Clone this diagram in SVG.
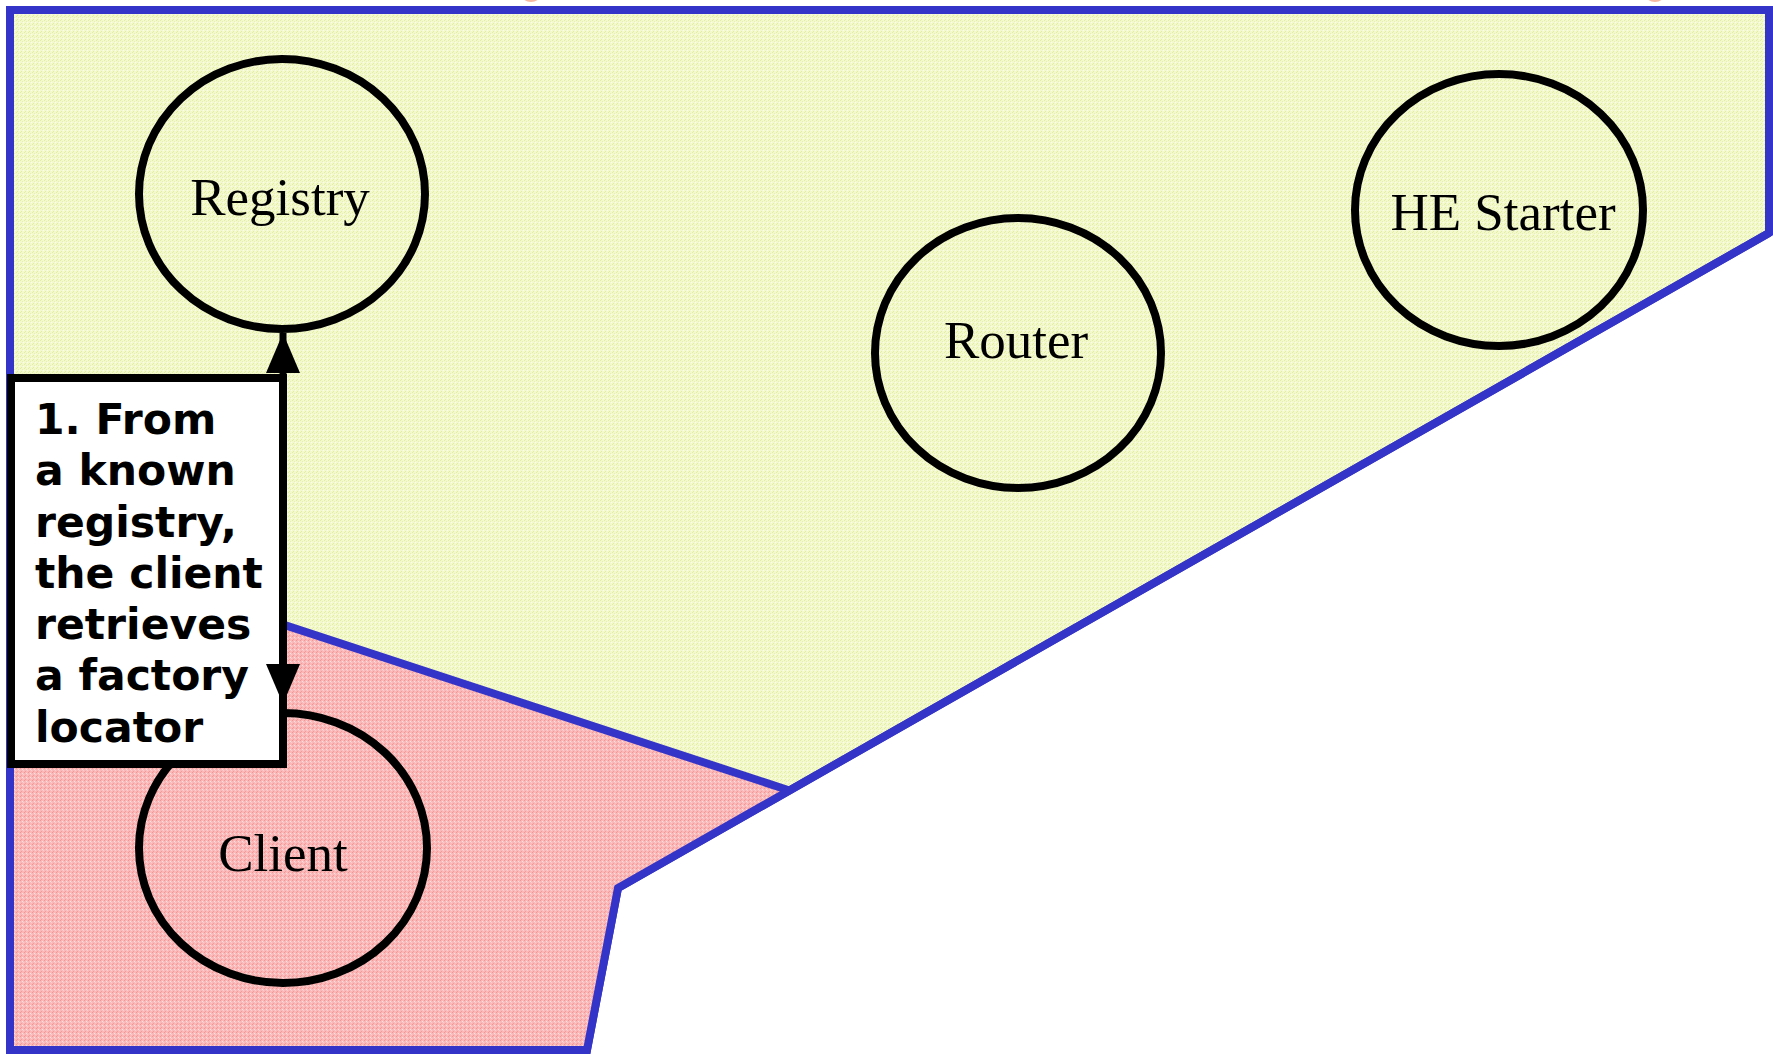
<svg xmlns="http://www.w3.org/2000/svg" width="1773" height="1055" viewBox="0 0 1773 1055">
<style>
.zone{stroke:#3434c8;stroke-width:8;stroke-linejoin:miter}
.node{fill:none;stroke:#000;stroke-width:8}
.lbl{font-family:"Liberation Serif","Times New Roman",serif;font-size:53px;fill:#000;text-anchor:middle}
.note{font-family:"DejaVu Sans",Verdana,sans-serif;font-weight:bold;font-size:42.5px;fill:#000}
</style>
<defs>
<pattern id="py" width="4" height="4" patternUnits="userSpaceOnUse">
<rect width="4" height="4" fill="#f3f8cf"/>
<rect x="0" y="0" width="1" height="1" fill="#e4ee9a"/>
<rect x="2" y="1" width="1" height="1" fill="#e8f1a8"/>
<rect x="1" y="3" width="1" height="1" fill="#e4ee9a"/>
<rect x="3" y="2" width="1" height="1" fill="#fbfde8"/>
</pattern>
<pattern id="pp" width="4" height="4" patternUnits="userSpaceOnUse">
<rect width="4" height="4" fill="#fab8b8"/>
<rect x="0" y="0" width="1" height="1" fill="#f59494"/>
<rect x="2" y="1" width="1" height="1" fill="#fde0e0"/>
<rect x="1" y="3" width="1" height="1" fill="#f69a9a"/>
<rect x="3" y="2" width="1" height="1" fill="#fcd0d0"/>
</pattern>
<marker id="ah" viewBox="0 0 40 34" refX="40" refY="17" markerWidth="40" markerHeight="34" markerUnits="userSpaceOnUse" orient="auto-start-reverse">
<path d="M0,0 L40,17 L0,34 Z" fill="#000"/>
</marker>
</defs>
<g id="top-marks">
<ellipse cx="531" cy="-6" rx="10" ry="8" fill="#f6b8a0"/>
<ellipse cx="1655" cy="-6" rx="10" ry="8" fill="#f6b8a0"/>
</g>
<g id="zone-yellow">
<polygon class="zone" fill="url(#py)" points="10,10 1769,10 1769,233 618,888 587,1050 10,1050"/>
</g>
<g id="zone-pink">
<polygon fill="url(#pp)" points="10,535 793,792 618,888 587,1050 10,1050"/>
<polyline class="zone" fill="none" points="10,535 791,791"/>
<polyline class="zone" fill="none" points="1769,233 618,888 587,1050 10,1050 10,535"/>
</g>
<g id="registry">
<ellipse class="node" cx="282" cy="194" rx="143" ry="135"/>
<text class="lbl" x="280" y="215">Registry</text>
</g>
<g id="router">
<ellipse class="node" cx="1018" cy="353" rx="143" ry="135"/>
<text class="lbl" x="1016" y="358">Router</text>
</g>
<g id="he-starter">
<ellipse class="node" cx="1499" cy="210" rx="144" ry="136"/>
<text class="lbl" x="1503" y="230">HE Starter</text>
</g>
<g id="client">
<ellipse class="node" cx="283" cy="848" rx="144" ry="135"/>
<text class="lbl" x="283" y="871">Client</text>
</g>
<g id="note">
<rect x="11" y="378" width="272" height="386" fill="#fff" stroke="#000" stroke-width="8"/>
<text class="note" x="35" y="434">1. From</text>
<text class="note" x="35" y="485">a known</text>
<text class="note" x="35" y="537">registry,</text>
<text class="note" x="35" y="588">the client</text>
<text class="note" x="35" y="639">retrieves</text>
<text class="note" x="35" y="690">a factory</text>
<text class="note" x="35" y="742">locator</text>
</g>
<g id="connectors">
<line x1="283" y1="333" x2="283" y2="704" stroke="#000" stroke-width="7" marker-start="url(#ah)" marker-end="url(#ah)"/>
</g>
</svg>
